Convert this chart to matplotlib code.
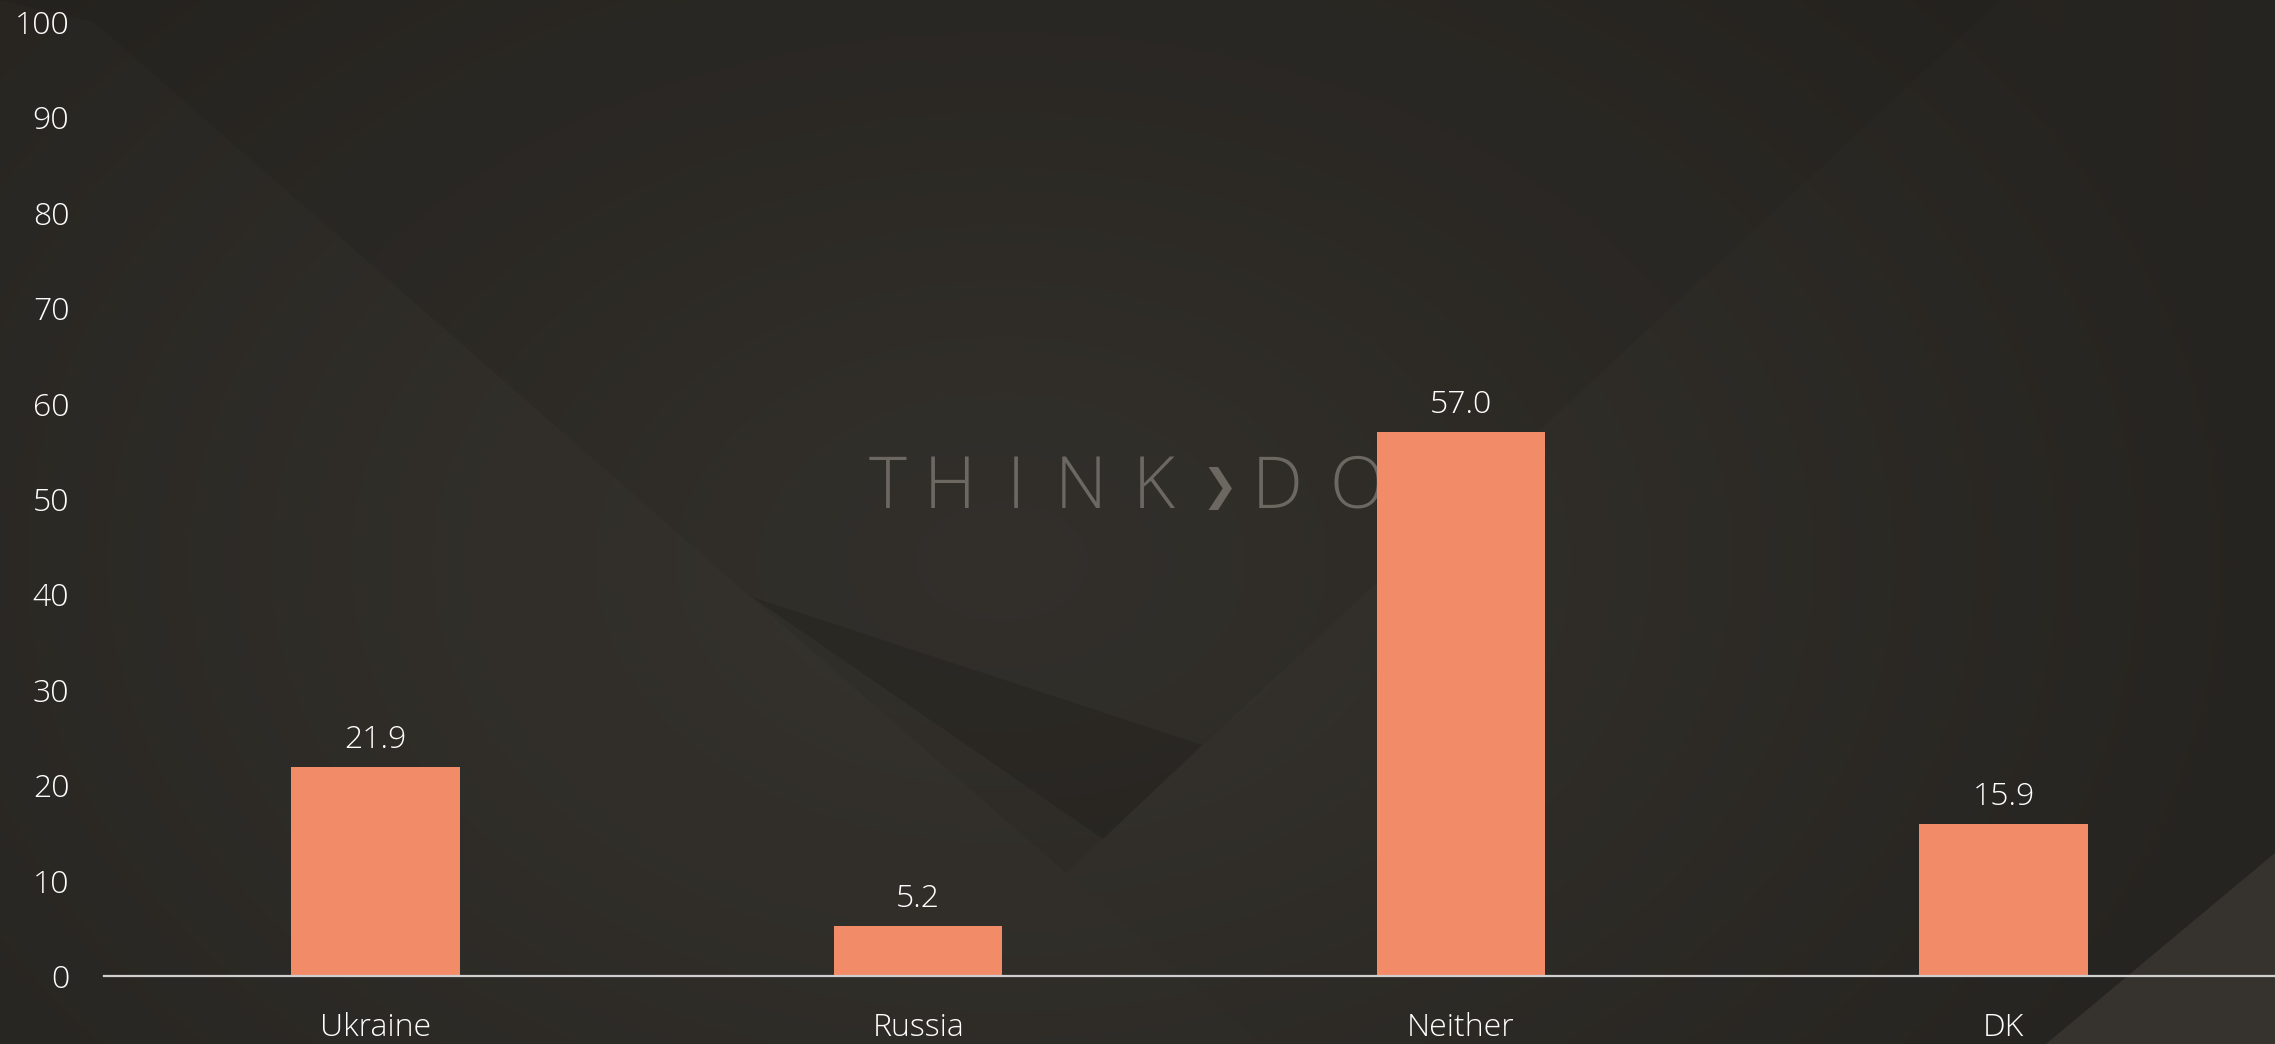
import matplotlib
matplotlib.use("Agg")
import matplotlib.pyplot as plt
from matplotlib.patches import Polygon
import numpy as np

# data
categories = ["Ukraine", "Russia", "Neither", "DK"]
values = [21.9, 5.2, 57.0, 15.9]
yticks = [0, 10, 20, 30, 40, 50, 60, 70, 80, 90, 100]

W, H = 2275, 1044
plt.rcParams['font.family'] = ['Open Sans', 'DejaVu Sans']

fig = plt.figure(figsize=(W / 100, H / 100), dpi=100)

# background: soft radial gradient plus a few flat shapes
bg = fig.add_axes([0, 0, 1, 1], zorder=0)
yy, xx = np.mgrid[0:H:4, 0:W:4]
d = np.sqrt(((xx - 1000) / 1300.0) ** 2 + ((yy - 560) / 900.0) ** 2)
d = np.clip(d, 0, 1)
c0 = np.array([0x37, 0x34, 0x2f]) / 255.0
c1 = np.array([0x26, 0x24, 0x20]) / 255.0
img = c0[None, None, :] * (1 - d[..., None]) + c1[None, None, :] * d[..., None]
bg.imshow(img, extent=[0, W, H, 0], aspect='auto', interpolation='bilinear')
bg.set_xlim(0, W)
bg.set_ylim(H, 0)
bg.axis('off')

shapes = [
    ([(0, 0), (2000, 0), (1066, 873), (94, 22)], '#1c1a17', 0.13),
    ([(0, 0), (94, 22), (1262, 1044), (0, 1044)], '#3a3732', 0.10),
    ([(752, 597), (1202, 745), (1103, 839)], '#1f1d1a', 0.35),
    ([(2275, 853), (2275, 1044), (2046, 1044)], '#4a4640', 0.45),
]
for pts, col, a in shapes:
    bg.add_patch(Polygon(pts, closed=True, facecolor=col, edgecolor='none', alpha=a))

# watermark, sits behind the bars
mark = ["T", "H", "I", "N", "K", "\u276F", "D", "O"]
mx = [888, 950, 1016, 1081, 1154, 1219, 1277, 1357]
for ch, x in zip(mark, mx):
    if ch == "\u276F":
        bg.text(x, 489, ch, color='#6c6761', fontsize=31, ha='center', va='center',
                family='DejaVu Sans', fontweight='bold')
    else:
        bg.text(x, 489, ch, color='#6c6761', fontsize=52, ha='center', va='center',
                fontweight='light')

ax = fig.add_axes([104 / W, 68 / H, 1 - 104 / W, (976 - 22) / H], zorder=1)
ax.patch.set_alpha(0)

x = np.arange(len(categories))
bars = ax.bar(x, values, width=0.31, color='#f28b68', zorder=2)
for b, v in zip(bars, values):
    ax.annotate(f"{v:.1f}", (b.get_x() + b.get_width() / 2, v), xytext=(0, 14),
                textcoords='offset points', ha='center', va='baseline',
                color='#ffffff', fontsize=23, fontweight='light')

ax.set_xlim(-0.5, len(categories) - 0.5)
ax.set_ylim(0, 100)
ax.set_yticks(yticks)
ax.set_xticks(x)
ax.set_xticklabels(categories)
ax.tick_params(axis='y', length=0, pad=25, labelsize=23, labelcolor='#ffffff')
ax.tick_params(axis='x', length=0, pad=26, labelsize=23, labelcolor='#ffffff')
for lab in ax.get_xticklabels() + ax.get_yticklabels():
    lab.set_fontweight('light')

for s in ['top', 'right', 'left']:
    ax.spines[s].set_visible(False)
ax.spines['bottom'].set_color('#cfcfcf')
ax.spines['bottom'].set_linewidth(1.6)
ax.spines['bottom'].set_zorder(3)

fig.savefig("out.png", dpi=100)
